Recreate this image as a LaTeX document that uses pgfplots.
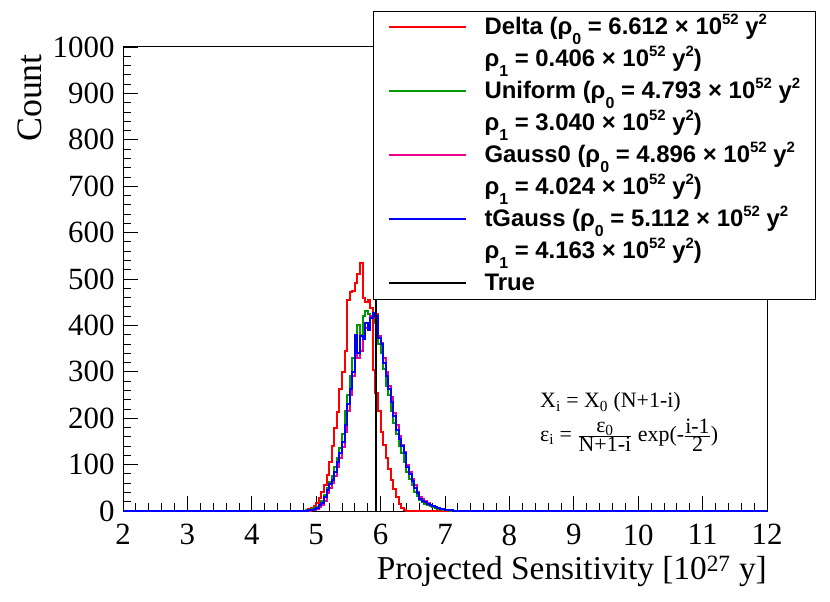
\documentclass[border=0pt]{standalone}
\usepackage{fontspec}
\setmainfont{Liberation Serif}
\newfontfamily\legfont{Liberation Sans}
\usepackage{pgfplots}
\pgfplotsset{compat=1.18}
\definecolor{rgreen}{RGB}{0,153,0}
\newcommand{\lsub}[1]{\raisebox{-10bp}{\fontsize{16}{16}\selectfont #1}}
\newcommand{\lsup}[1]{\raisebox{10bp}{\fontsize{15}{15}\selectfont #1}}
\begin{document}
\begin{tikzpicture}
\useasboundingbox (0,0) rectangle (830bp,602bp);
\begin{axis}[
  at={(123bp,91bp)}, anchor=south west,
  scale only axis, width=644bp, height=464bp,
  xmin=2, xmax=12, ymin=0, ymax=1000,
  xtick={2,3,...,12}, ytick={0,100,...,1000},
  minor x tick num=4, minor y tick num=4,
  tick align=inside, xtick pos=bottom, ytick pos=left,
  major tick length=15bp, minor tick length=8bp,
  axis line style={line width=1bp},
  every tick/.style={black, line width=0.8bp},
  tick label style={font=\fontsize{31}{31}\selectfont},
  /pgf/number format/assume math mode=true,
  /pgf/number format/1000 sep={},
  xticklabel style={yshift=-10bp},
  yticklabel style={xshift=-5bp},
  xlabel={Projected Sensitivity [10\textsuperscript{27} y]},
  xlabel style={at={(axis description cs:1,-0.1487)}, anchor=base east, font=\fontsize{33.5}{33.5}\selectfont, inner sep=0pt},
  ylabel={Count},
  ylabel style={at={(axis description cs:-0.1258,0.985)}, anchor=base east, font=\fontsize{36}{36}\selectfont, inner sep=0pt},
  clip=false,
  legend style={at={(axis description cs:0.3882,1.0776)}, anchor=north west, fill=white, draw=black, line width=1bp,
    font=\legfont\bfseries\fontsize{24}{24}\selectfont, inner xsep=14bp, inner ysep=0bp, row sep=0bp, column sep=17bp,
    nodes={text height=19bp, text depth=5bp, inner ysep=4bp, inner xsep=1bp}},
  legend cell align=left,
  legend image code/.code={\draw[#1] (0bp,0bp) -- (77bp,0bp);},
]
\addplot[red, line width=2bp, const plot mark left] coordinates {
(2,0) (4.80,0) (4.84,2) (4.88,4) (4.92,7) (4.96,10) (5.00,17) (5.04,27) (5.08,40) (5.12,55) (5.16,78) (5.20,105) (5.24,140) (5.28,178) (5.32,213) (5.36,262) (5.40,300) (5.44,345) (5.48,455) (5.52,473) (5.56,475) (5.60,492) (5.64,511) (5.68,534) (5.72,459) (5.76,450) (5.80,455) (5.84,437) (5.88,304) (5.92,254) (5.96,215) (6.00,170) (6.04,142) (6.08,115) (6.12,90) (6.16,66) (6.20,48) (6.24,30) (6.28,16) (6.32,7) (6.36,3) (6.40,1) (6.44,0) (12,0)};
\addlegendentry{Delta (ρ\lsub{0} = 6.612 × 10\lsup{52} y\lsup{2}}
\addlegendimage{empty legend}
\addlegendentry{ρ\lsub{1} = 0.406 × 10\lsup{52} y\lsup{2})}
\addplot[rgreen, line width=2bp, const plot mark left] coordinates {
(2,0) (4.80,1) (4.84,2) (4.88,3) (4.92,4) (4.96,6) (5.00,9) (5.04,14) (5.08,22) (5.12,35) (5.16,50) (5.20,62) (5.24,75) (5.28,95) (5.32,115) (5.36,135) (5.40,165) (5.44,215) (5.48,250) (5.52,290) (5.56,330) (5.60,375) (5.64,400) (5.68,380) (5.72,420) (5.76,432) (5.80,425) (5.84,415) (5.88,420) (5.92,405) (5.96,360) (6.00,340) (6.04,305) (6.08,270) (6.12,250) (6.16,215) (6.20,190) (6.24,165) (6.28,140) (6.32,125) (6.36,105) (6.40,85) (6.44,70) (6.48,55) (6.52,42) (6.56,32) (6.60,23) (6.64,19) (6.68,16) (6.72,12) (6.76,10) (6.80,8) (6.84,6) (6.88,5) (6.92,4) (6.96,3) (7.00,2) (7.04,2) (7.08,1) (7.12,1) (7.16,0) (12,0)};
\addlegendentry{Uniform (ρ\lsub{0} = 4.793 × 10\lsup{52} y\lsup{2}}
\addlegendimage{empty legend}
\addlegendentry{ρ\lsub{1} = 3.040 × 10\lsup{52} y\lsup{2})}
\addplot[magenta, line width=2bp, const plot mark left] coordinates {
(2,0) (4.84,1) (4.88,1) (4.92,2) (4.96,3) (5.00,5) (5.04,8) (5.08,13) (5.12,22) (5.16,38) (5.20,50) (5.24,60) (5.28,75) (5.32,95) (5.36,115) (5.40,138) (5.44,170) (5.48,215) (5.52,250) (5.56,290) (5.60,350) (5.64,330) (5.68,345) (5.72,375) (5.76,395) (5.80,400) (5.84,420) (5.88,415) (5.92,425) (5.96,378) (6.00,362) (6.04,330) (6.08,300) (6.12,270) (6.16,245) (6.20,212) (6.24,185) (6.28,162) (6.32,143) (6.36,128) (6.40,100) (6.44,85) (6.48,70) (6.52,55) (6.56,42) (6.60,30) (6.64,25) (6.68,21) (6.72,17) (6.76,13) (6.80,11) (6.84,9) (6.88,7) (6.92,5) (6.96,4) (7.00,3) (7.04,3) (7.08,2) (7.12,1) (7.16,1) (7.20,1) (7.24,1) (7.28,0) (12,0)};
\addlegendentry{Gauss0 (ρ\lsub{0} = 4.896 × 10\lsup{52} y\lsup{2}}
\addlegendimage{empty legend}
\addlegendentry{ρ\lsub{1} = 4.024 × 10\lsup{52} y\lsup{2})}
\addplot[blue, line width=2bp, const plot mark left] coordinates {
(2,0) (4.84,1) (4.88,2) (4.92,3) (4.96,5) (5.00,7) (5.04,12) (5.08,17) (5.12,30) (5.16,45) (5.20,58) (5.24,67) (5.28,85) (5.32,105) (5.36,125) (5.40,148) (5.44,185) (5.48,230) (5.52,262) (5.56,300) (5.60,380) (5.64,340) (5.68,378) (5.72,370) (5.76,405) (5.80,390) (5.84,416) (5.88,427) (5.92,420) (5.96,372) (6.00,360) (6.04,320) (6.08,290) (6.12,262) (6.16,235) (6.20,205) (6.24,175) (6.28,155) (6.32,140) (6.36,125) (6.40,95) (6.44,80) (6.48,65) (6.52,50) (6.56,38) (6.60,26) (6.64,22) (6.68,19) (6.72,16) (6.76,12) (6.80,10) (6.84,8) (6.88,6) (6.92,5) (6.96,4) (7.00,3) (7.04,2) (7.08,2) (7.12,1) (7.16,1) (7.20,1) (7.24,0) (12,0)};
\addlegendentry{tGauss (ρ\lsub{0} = 5.112 × 10\lsup{52} y\lsup{2}}
\addlegendimage{empty legend}
\addlegendentry{ρ\lsub{1} = 4.163 × 10\lsup{52} y\lsup{2})}
\addplot[black, line width=2bp] coordinates {(5.93,0) (5.93,1000)};
\addlegendentry{True}
\node[anchor=base west, font=\fontsize{22}{26}\selectfont, inner sep=0pt] at (axis cs:8.475,222) {X\textsubscript{i} = X\textsubscript{0} (N+1-i)};
\node[anchor=base west, font=\fontsize{22}{26}\selectfont, inner sep=0pt] at (axis cs:8.475,149) {ε\textsubscript{i} = $\frac{\hbox{ε\textsubscript{0}}}{\hbox{N+1-i}}$ exp(-$\frac{\hbox{i-1}}{\hbox{2}}$)};
\end{axis}
\end{tikzpicture}
\end{document}
